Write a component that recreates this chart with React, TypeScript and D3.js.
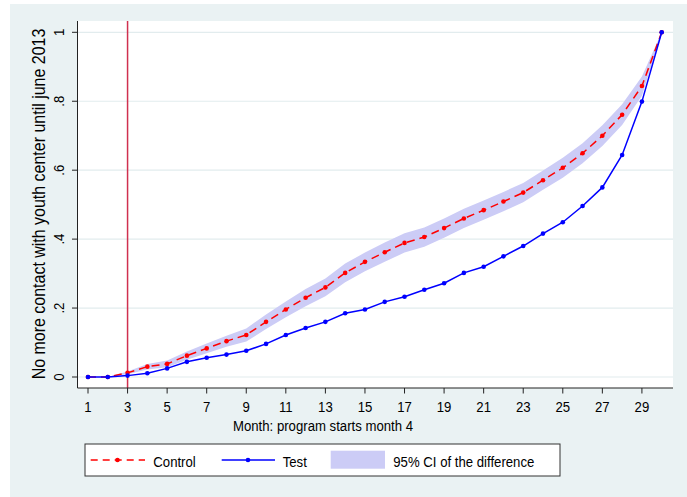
import React from "react";
import * as d3 from "d3";

// Share of youths with no further contact, by month
const months = d3.range(1, 31);
const control = [0, 0, 0.012, 0.03, 0.038, 0.062, 0.083, 0.104, 0.122, 0.16, 0.196, 0.23, 0.26, 0.302, 0.334, 0.362, 0.389, 0.406, 0.432, 0.46, 0.484, 0.509, 0.535, 0.571, 0.607, 0.649, 0.7, 0.761, 0.844, 1.0];
const test = [0, 0, 0.004, 0.011, 0.025, 0.044, 0.056, 0.065, 0.076, 0.096, 0.122, 0.142, 0.16, 0.185, 0.196, 0.218, 0.233, 0.253, 0.272, 0.302, 0.32, 0.35, 0.38, 0.416, 0.449, 0.496, 0.55, 0.644, 0.799, 1.0];
const ciLow = [0, 0, 0.008, 0.022, 0.028, 0.05, 0.069, 0.088, 0.103, 0.139, 0.173, 0.205, 0.234, 0.275, 0.307, 0.334, 0.361, 0.378, 0.404, 0.432, 0.456, 0.481, 0.507, 0.543, 0.578, 0.62, 0.67, 0.731, 0.816, 1.0];
const ciHigh = [0, 0, 0.016, 0.038, 0.048, 0.074, 0.097, 0.12, 0.141, 0.181, 0.219, 0.255, 0.286, 0.329, 0.361, 0.39, 0.417, 0.434, 0.46, 0.488, 0.512, 0.537, 0.563, 0.599, 0.636, 0.678, 0.73, 0.791, 0.872, 1.0];

const xTicks = d3.range(1, 30, 2);
const yTicks = [0, 0.2, 0.4, 0.6, 0.8, 1];
const yTickLabels = ["0", ".2", ".4", ".6", ".8", "1"];
const programStartLine = 3;

const W = 687;
const H = 497;
const plot = { left: 77.5, right: 673, top: 21, bottom: 388 };
const FONT = "'Liberation Sans', Arial, Helvetica, sans-serif";
const SQ = 0.85; // narrow text

const BG = "#eaf2f3";
const GRID = "#e2ecee";
const RED = "#ff0000";
const BLUE = "#0000ff";
const BAND = "#ccccf6";
const XLINE = "#d0304f";
const AXIS = "#222";

function HText({ x, y, size = 15.5, anchor = "start", children }: any) {
  return (
    <text
      transform={`translate(${x},${y}) scale(${SQ},1)`}
      textAnchor={anchor}
      fontSize={size}
      fontFamily={FONT}
      fill="#000"
    >
      {children}
    </text>
  );
}

export default function App() {
  const x = d3.scaleLinear().domain([1, 30]).range([88, 661.7]);
  const y = d3.scaleLinear().domain([0, 1]).range([377, 32.3]);

  const rows = months.map((m, i) => ({ m, c: control[i], t: test[i], lo: ciLow[i], hi: ciHigh[i] }));
  const area = d3
    .area<any>()
    .x((d) => x(d.m))
    .y0((d) => y(d.lo))
    .y1((d) => y(d.hi));
  const controlLine = d3.line<any>().x((d) => x(d.m)).y((d) => y(d.c));
  const testLine = d3.line<any>().x((d) => x(d.m)).y((d) => y(d.t));

  const legendY = 460;

  return (
    <svg
      width={W}
      height={H}
      style={{ position: "absolute", left: 0, top: 0, display: "block" }}
    >
      <rect x={0} y={0} width={W} height={H} fill="#fff" />
      <rect x={10} y={4} width={W - 10} height={H - 4} fill={BG} />
      <rect
        x={plot.left}
        y={plot.top}
        width={plot.right - plot.left}
        height={plot.bottom - plot.top}
        fill="#fff"
      />

      {/* gridlines */}
      {yTicks.map((t) => (
        <line key={t} x1={plot.left} x2={plot.right} y1={y(t)} y2={y(t)} stroke={GRID} strokeWidth={1.2} />
      ))}

      {/* program start marker */}
      <line
        x1={x(programStartLine)}
        x2={x(programStartLine)}
        y1={plot.top}
        y2={plot.bottom}
        stroke={XLINE}
        strokeWidth={1.5}
      />

      {/* confidence band */}
      <path d={area(rows) || ""} fill={BAND} stroke="none" />

      {/* control series */}
      <path d={controlLine(rows) || ""} fill="none" stroke={RED} strokeWidth={1.5} strokeDasharray="8,5" />
      {rows.map((d) => (
        <circle key={"c" + d.m} cx={x(d.m)} cy={y(d.c)} r={2.3} fill={RED} />
      ))}

      {/* test series */}
      <path d={testLine(rows) || ""} fill="none" stroke={BLUE} strokeWidth={1.5} />
      {rows.map((d) => (
        <circle key={"t" + d.m} cx={x(d.m)} cy={y(d.t)} r={2.3} fill={BLUE} />
      ))}

      {/* axes */}
      <line x1={plot.left} x2={plot.left} y1={plot.top} y2={plot.bottom} stroke={AXIS} strokeWidth={1} />
      <line x1={plot.left} x2={plot.right} y1={plot.bottom} y2={plot.bottom} stroke={AXIS} strokeWidth={1} />

      {yTicks.map((t, i) => (
        <g key={"yt" + t}>
          <line x1={plot.left - 5.5} x2={plot.left} y1={y(t)} y2={y(t)} stroke={AXIS} strokeWidth={1} />
          <text
            transform={`translate(63.5,${y(t)}) rotate(-90) scale(${SQ},1)`}
            textAnchor="middle"
            fontSize={15.5}
            fontFamily={FONT}
          >
            {yTickLabels[i]}
          </text>
        </g>
      ))}

      {xTicks.map((t) => (
        <g key={"xt" + t}>
          <line x1={x(t)} x2={x(t)} y1={plot.bottom} y2={plot.bottom + 5.5} stroke={AXIS} strokeWidth={1} />
          <HText x={x(t)} y={411.7} anchor="middle">
            {t}
          </HText>
        </g>
      ))}

      <HText x={323} y={430.7} anchor="middle">
        Month: program starts month 4
      </HText>

      <text
        transform={`translate(45,204) rotate(-90) scale(${SQ},1)`}
        textAnchor="middle"
        fontSize={18.8}
        fontFamily={FONT}
      >
        No more contact with youth center until june 2013
      </text>

      {/* legend */}
      <rect x={85} y={444} width={475} height={32} fill="#fff" stroke="#333" strokeWidth={1} />
      <line x1={90.7} x2={145} y1={legendY} y2={legendY} stroke={RED} strokeWidth={1.5} strokeDasharray="7,5" />
      <circle cx={117.5} cy={legendY} r={2.3} fill={RED} />
      <HText x={153.3} y={466.7}>Control</HText>

      <line x1={221.7} x2={275} y1={legendY} y2={legendY} stroke={BLUE} strokeWidth={1.5} />
      <circle cx={248} cy={legendY} r={2.3} fill={BLUE} />
      <HText x={282.7} y={466.7}>Test</HText>

      <rect x={330.7} y={450.7} width={54.3} height={18} fill={BAND} />
      <HText x={393.3} y={466.7}>95% CI of the difference</HText>
    </svg>
  );
}
